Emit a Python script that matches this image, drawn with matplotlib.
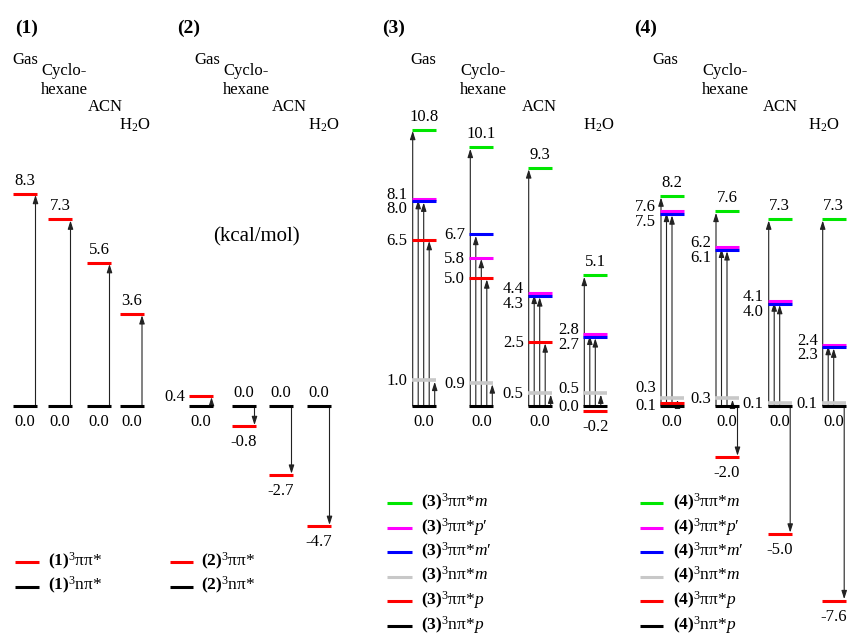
import matplotlib.pyplot as plt

plt.rcParams["font.family"] = ["Liberation Serif", "DejaVu Serif"]
plt.rcParams["mathtext.fontset"] = "custom"
plt.rcParams["mathtext.rm"] = "Liberation Serif"
plt.rcParams["mathtext.it"] = "Liberation Serif:italic"
plt.rcParams["mathtext.bf"] = "Liberation Serif:bold"

# headers
solvents = ["Gas", "Cyclo-\nhexane", "ACN", "H$_2$O"]
panels = ["(1)", "(2)", "(3)", "(4)"]
unit = "(kcal/mol)"

# relative triplet energies (kcal/mol) for Gas, Cyclohexane, ACN, H2O
e1_pp = [8.3, 7.3, 5.6, 3.6]
e1_np = [0.0, 0.0, 0.0, 0.0]

e2_pp = [0.4, -0.8, -2.7, -4.7]
e2_np = [0.0, 0.0, 0.0, 0.0]

e3_m = [10.8, 10.1, 9.3, 5.1]
e3_pp = [8.1, 5.8, 4.4, 2.8]
e3_mp = [8.0, 6.7, 4.3, 2.7]
e3_nm = [1.0, 0.9, 0.5, 0.5]
e3_p = [6.5, 5.0, 2.5, -0.2]
e3_np = [0.0, 0.0, 0.0, 0.0]

e4_m = [8.2, 7.6, 7.3, 7.3]
e4_pp = [7.6, 6.2, 4.1, 2.4]
e4_mp = [7.5, 6.1, 4.0, 2.3]
e4_nm = [0.3, 0.3, 0.1, 0.1]
e4_p = [0.1, -2.0, -5.0, -7.6]
e4_np = [0.0, 0.0, 0.0, 0.0]

leg1 = [r"$\mathbf{(1)}^{3}$ππ*", r"$\mathbf{(1)}^{3}$nπ*"]
leg2 = [r"$\mathbf{(2)}^{3}$ππ*", r"$\mathbf{(2)}^{3}$nπ*"]
leg3 = [r"$\mathbf{(3)}^{3}$ππ*$m$", r"$\mathbf{(3)}^{3}$ππ*$p$′",
        r"$\mathbf{(3)}^{3}$ππ*$m$′", r"$\mathbf{(3)}^{3}$nπ*$m$",
        r"$\mathbf{(3)}^{3}$ππ*$p$", r"$\mathbf{(3)}^{3}$nπ*$p$"]
leg4 = [r"$\mathbf{(4)}^{3}$ππ*$m$", r"$\mathbf{(4)}^{3}$ππ*$p$′",
        r"$\mathbf{(4)}^{3}$ππ*$m$′", r"$\mathbf{(4)}^{3}$nπ*$m$",
        r"$\mathbf{(4)}^{3}$ππ*$p$", r"$\mathbf{(4)}^{3}$nπ*$p$"]

GREEN, MAGENTA, BLUE = "#00e600", "#ff00ff", "#0000ff"
GRAY, RED, BLACK = "#c8c8c8", "#ff0000", "#000000"

data = [
    [(e1_pp, RED), (e1_np, BLACK)],
    [(e2_pp, RED), (e2_np, BLACK)],
    [(e3_m, GREEN), (e3_pp, MAGENTA), (e3_mp, BLUE), (e3_nm, GRAY), (e3_p, RED), (e3_np, BLACK)],
    [(e4_m, GREEN), (e4_pp, MAGENTA), (e4_mp, BLUE), (e4_nm, GRAY), (e4_p, RED), (e4_np, BLACK)],
]
legends = [leg1, leg2, leg3, leg4]

# layout (pixels)
Y0, S = 406, 25.6          # row of 0 kcal/mol, pixels per kcal/mol
W = 24                     # width of a level line
col_left = [[13, 48, 87, 119.5], [189, 232, 269, 307],
            [411.7, 469.3, 527.7, 583.3], [660, 715, 767.7, 821.7]]
head_x = [[12, 41, 88, 119], [194, 223, 272, 308],
          [410, 460, 522, 583], [652, 702, 763, 808]]
head_row = [64, 75, 111, 130]
title_x = [15, 177, 382, 634]
leg_key = [(15, 39, 48), (170, 193, 201), (387, 412, 421), (640, 663, 673)]
leg_row0 = [562, 562, 503, 503]
leg_step = 24.5

# label position per series/column: a=above, b=below, l=left,
# h/o=left pair (upper/lower), u/d=tight left pair
place = [
    ["aaaa", "bbbb"],
    ["lbbb", "baaa"],
    ["aaaa", "hlhh", "oloo", "lllh", "lllb", "bbbl"],
    ["aaaa", "hhhh", "oooo", "ulll", "dbbb", "bbbb"],
]
off = {"a": -9, "b": 20, "l": 5, "h": 0, "o": 12, "u": -6, "d": 7}


def yr(r):
    return (Y0 - r) / S


fig = plt.figure(figsize=(8.48, 6.36), dpi=100)
ax = fig.add_axes([0, 0, 1, 1])
ax.set_xlim(0, 848)
ax.set_ylim(yr(636), yr(0))
ax.axis("off")


def arrow(x, v):
    ax.annotate("", xy=(x, v), xytext=(x, 0.0),
                arrowprops=dict(arrowstyle="-|>,head_length=0.5,head_width=0.16",
                                color="#222222", lw=0.8, shrinkA=0, shrinkB=1.0,
                                mutation_scale=10), zorder=2)


for k in range(4):
    series = data[k]
    for j in range(4):
        x0 = col_left[k][j]
        x1 = x0 + W
        xc = x0 + W / 2
        for s, (vals, color) in enumerate(series):
            v = vals[j]
            ax.plot([x0, x1], [v, v], color=color, lw=2.6 if color == GRAY else 2.2,
                    solid_capstyle="butt", zorder=3)
            code = place[k][s][j]
            y = v - off[code] / S
            if code in "ab":
                ax.text(xc, y, f"{v:.1f}", ha="center", va="baseline", fontsize=12)
            else:
                ax.text(x0 - 4, y, f"{v:.1f}", ha="right", va="baseline", fontsize=12)

        # transitions from the ground nπ* level
        excited = [sv[0][j] for sv in series[:-1]]
        if k < 2:
            arrow(x1 - 1.5, excited[0])
        else:
            ups = sorted([v for v in excited if v >= 0.3], reverse=True)
            for i, v in enumerate(ups):
                arrow(x0 + 1 + 5.5 * i, v)
            for v in excited:
                if v <= -0.3:
                    arrow(x1 - 1.5, v)

    # solvent headers
    for j, name in enumerate(solvents):
        for i, line in enumerate(name.split("\n")):
            ax.text(head_x[k][j], yr(head_row[j] + 19 * i), line, fontsize=12, va="baseline")
    ax.text(title_x[k], yr(33), panels[k], fontsize=14, fontweight="bold", va="baseline")

    # legend
    xa, xb, xt = leg_key[k]
    for s, (vals, color) in enumerate(series):
        r = leg_row0[k] + leg_step * s
        ax.plot([xa, xb], [yr(r), yr(r)], color=color, lw=2.2, solid_capstyle="butt")
        ax.text(xt, yr(r + 4), legends[k][s], fontsize=12.5, va="baseline")

ax.text(213, yr(241), unit, fontsize=15, va="baseline")

fig.savefig("out.png", dpi=100)
